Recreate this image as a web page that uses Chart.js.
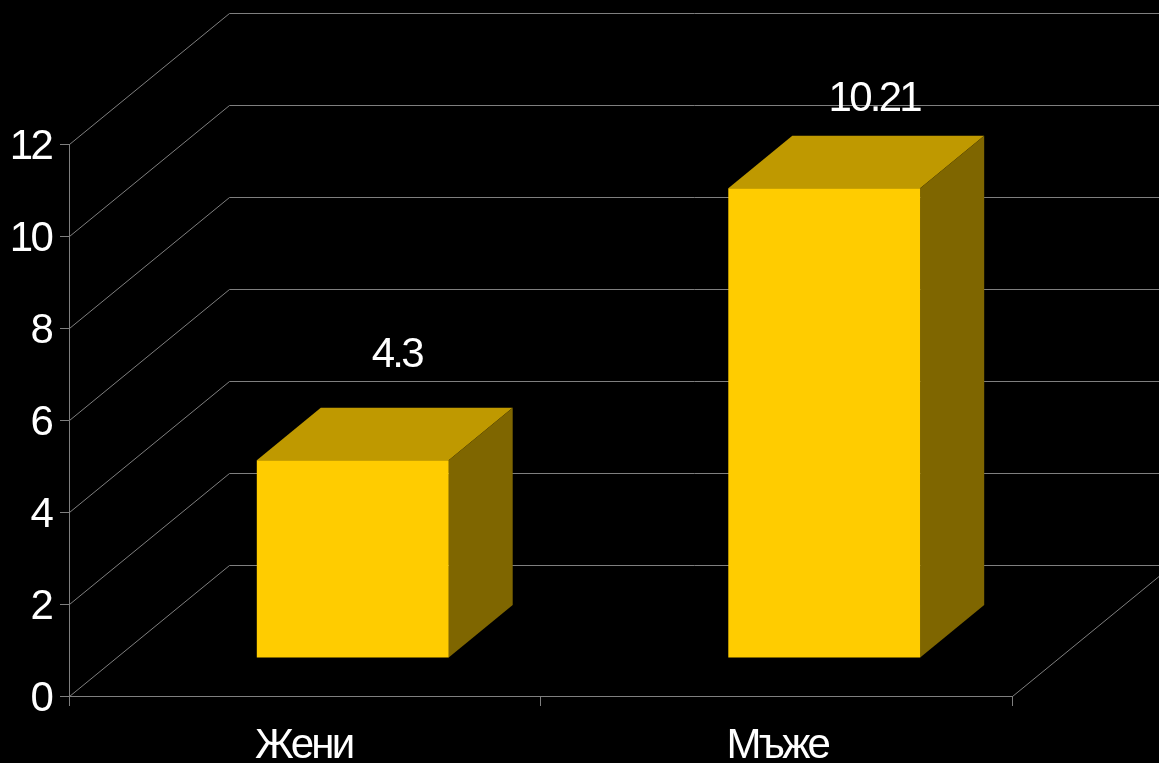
<!DOCTYPE html>
<html>
<head>
<meta charset="utf-8">
<style>
  html, body { margin: 0; padding: 0; background: #000; overflow: hidden; }
  canvas { display: block; }
</style>
<script src="https://cdn.jsdelivr.net/npm/chart.js@4/dist/chart.umd.min.js"></script>
</head>
<body>
<canvas id="chart" width="1159" height="763"></canvas>
<script>
const categories = ['Жени', 'Мъже'];
const values = [4.3, 10.21];
const valueLabels = ['4.3', '10.21'];

const LINE = '#7f7f7f';
const FONT = { family: '"Liberation Sans", Arial, sans-serif', size: 42 };
const TRACKING = '-2.75px';

// Oblique projection: where the back wall sits, where a bar's front face
// sits on the floor, and how deep each bar is.
const WALL = { dx: 160, dy: -131 };
const BAR_FRONT = { dx: 48, dy: -38 };
const BAR_DEPTH = { dx: 64, dy: -52.5 };

const depthBars = {
  id: 'depthBars',
  afterLayout(chart, args, opts) {
    // Nudge the tick captions relative to their ticks
    chart.scales.y.getLabelItems().forEach(item => {
      item.options.translation[1] += opts.yTickNudge;
    });
    chart.scales.x.getLabelItems().forEach((item, i) => {
      item.options.translation[0] += opts.xTickNudge[i];
    });
  },
  beforeDraw(chart) {
    chart.ctx.letterSpacing = TRACKING;
  },
  beforeDatasetsDraw(chart) {
    const { ctx, scales: { x, y }, width } = chart;
    const left = x.left, right = x.right, floor = y.getPixelForValue(0);

    // Side wall and back wall gridlines
    ctx.save();
    ctx.strokeStyle = LINE;
    ctx.lineWidth = 1;
    y.ticks.forEach(t => {
      const py = y.getPixelForValue(t.value) + 0.5;
      ctx.beginPath();
      ctx.moveTo(left + 0.5, py);
      ctx.lineTo(left + WALL.dx + 0.5, py + WALL.dy);
      ctx.lineTo(width, py + WALL.dy);
      ctx.stroke();
    });
    // Right edge of the floor
    ctx.beginPath();
    ctx.moveTo(right + 0.5, floor + 0.5);
    ctx.lineTo(right + WALL.dx + 0.5, floor + 0.5 + WALL.dy);
    ctx.stroke();

    // Top and side faces, behind the front face
    chart.getDatasetMeta(0).data.forEach(bar => {
      const l = bar.x - bar.width / 2 + BAR_FRONT.dx;
      const r = bar.x + bar.width / 2 + BAR_FRONT.dx;
      const t = bar.y + BAR_FRONT.dy;
      const b = bar.base + BAR_FRONT.dy;
      ctx.fillStyle = '#bf9900';
      ctx.beginPath();
      ctx.moveTo(l, t);
      ctx.lineTo(l + BAR_DEPTH.dx, t + BAR_DEPTH.dy);
      ctx.lineTo(r + BAR_DEPTH.dx, t + BAR_DEPTH.dy);
      ctx.lineTo(r, t);
      ctx.closePath();
      ctx.fill();
      ctx.fillStyle = '#7f6600';
      ctx.beginPath();
      ctx.moveTo(r, t);
      ctx.lineTo(r + BAR_DEPTH.dx, t + BAR_DEPTH.dy);
      ctx.lineTo(r + BAR_DEPTH.dx, b + BAR_DEPTH.dy);
      ctx.lineTo(r, b);
      ctx.closePath();
      ctx.fill();
    });
    ctx.restore();

    // The native bars become the front faces, moved forward onto the floor
    ctx.save();
    ctx.translate(BAR_FRONT.dx, BAR_FRONT.dy);
  },
  afterDatasetsDraw(chart, args, opts) {
    const { ctx } = chart;
    ctx.restore();

    // Value captions above each bar
    ctx.save();
    ctx.letterSpacing = TRACKING;
    ctx.fillStyle = '#fff';
    ctx.font = `${FONT.size}px ${FONT.family}`;
    ctx.textAlign = 'center';
    ctx.textBaseline = 'middle';
    chart.getDatasetMeta(0).data.forEach((bar, i) => {
      const shift = opts.labelShift[i];
      ctx.fillText(valueLabels[i],
        bar.x + BAR_FRONT.dx + shift.x,
        bar.y + BAR_FRONT.dy + shift.y);
    });
    ctx.restore();
  }
};

new Chart(document.getElementById('chart'), {
  type: 'bar',
  data: {
    labels: categories,
    datasets: [{
      data: values,
      backgroundColor: '#ffcc00',
      borderWidth: 0,
      barPercentage: 0.407,
      categoryPercentage: 1,
      clip: false
    }]
  },
  plugins: [depthBars],
  options: {
    responsive: false,
    animation: false,
    layout: { padding: { top: 144, right: 147, left: 0, bottom: 0 } },
    plugins: {
      legend: { display: false },
      title: { display: false },
      tooltip: { enabled: false },
      depthBars: {
        labelShift: [{ x: 44, y: -105 }, { x: 50, y: -89 }],
        yTickNudge: 3,
        xTickNudge: [-1, 1]
      }
    },
    scales: {
      x: {
        afterFit(s) { s.height = 67; },
        grid: { drawOnChartArea: false, color: LINE, tickColor: LINE, tickLength: 10 },
        border: { color: LINE },
        ticks: { color: '#fff', font: FONT, padding: 15, maxRotation: 0, autoSkip: false }
      },
      y: {
        min: 0,
        max: 12,
        afterFit(s) { s.width = 69; },
        grid: { drawOnChartArea: false, color: LINE, tickColor: LINE, tickLength: 9 },
        border: { color: LINE },
        ticks: { stepSize: 2, color: '#fff', font: FONT, padding: 9 }
      }
    }
  }
});
</script>
</body>
</html>
